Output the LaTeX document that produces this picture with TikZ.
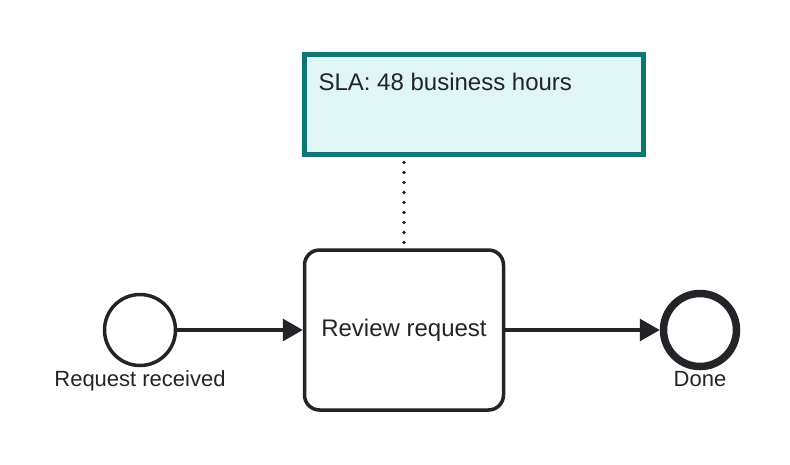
\documentclass[tikz,border=0pt]{standalone}
\usepackage{fontspec}
\setmainfont{Liberation Sans}
\usepackage{xcolor}
\usetikzlibrary{arrows.meta,positioning}
\definecolor{inkdark}{HTML}{222428}
\definecolor{noteteal}{HTML}{0E7772}
\definecolor{notefill}{HTML}{E0F5F5}

\begin{document}
\begin{tikzpicture}[x=1pt,y=-1pt,
    event/.style={circle,draw=inkdark,fill=white,line width=3.5pt,minimum size=71pt,inner sep=0pt},
    endevent/.style={event,line width=7.5pt,minimum size=73pt},
    task/.style={rectangle,rounded corners=15pt,draw=inkdark,fill=white,line width=3.5pt,
        minimum width=199pt,minimum height=160pt,text=inkdark,font=\fontsize{24}{28}\selectfont},
    note/.style={rectangle,draw=noteteal,fill=notefill,line width=5pt,minimum width=339pt,minimum height=100pt},
    flow/.style={draw=inkdark,line width=3.2pt,-{Triangle[length=20pt,width=22pt]}},
    assoc/.style={draw=inkdark,line width=3.6pt,line cap=round,dash pattern=on 0pt off 10pt},
    evlabel/.style={anchor=base,text=inkdark,font=\fontsize{22}{26}\selectfont}]
    \useasboundingbox (0,0) rectangle (790,464);

    % Annotation
    \node[note] (sla) at (474,104.5) {};
    \node[anchor=base west,text=inkdark,font=\fontsize{24}{28}\selectfont] (slatext) at (315,90) {SLA: 48 business hours};

    % Events and task
    \node[event] (start) at (140,330) {};
    \node[task] (review) at (404,330) {Review request};
    \node[endevent] (done) at (700,330) {};

    % Labels
    \node[evlabel] (startlbl) at (140,386) {Request received};
    \node[evlabel] (donelbl) at (700,386) {Done};

    % Flows
    \draw[flow] (start) -- (review);
    \draw[flow] (review) -- (done);
    \draw[assoc,shorten <=5.5pt,shorten >=4pt] (review.north |- sla.south) -- (review.north);
\end{tikzpicture}
\end{document}
